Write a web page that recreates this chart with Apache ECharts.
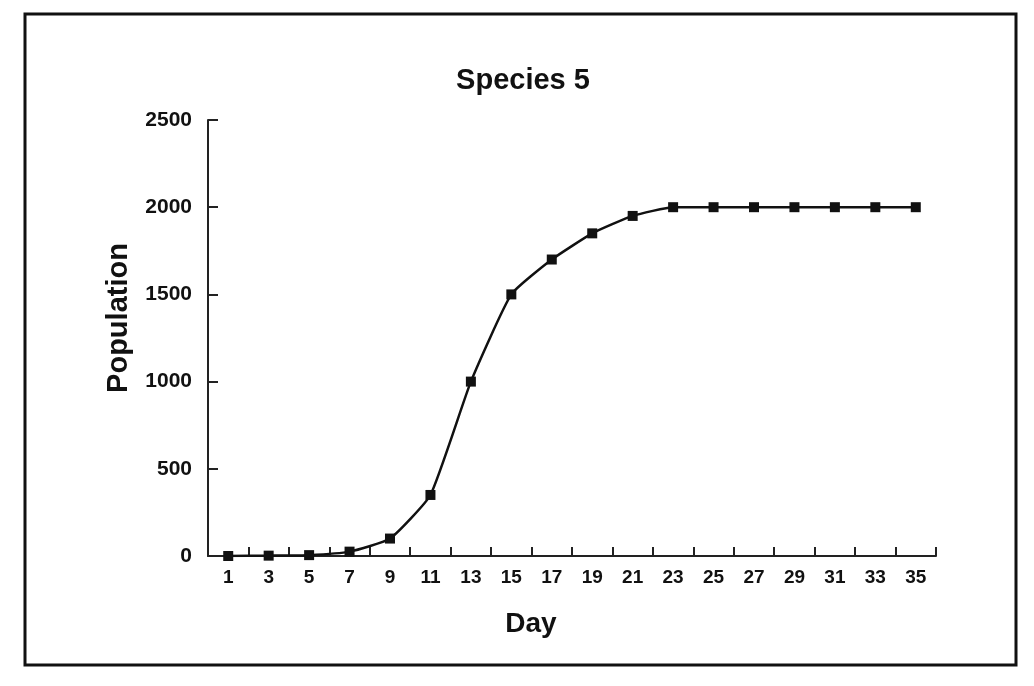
<!DOCTYPE html>
<html>
<head>
<meta charset="utf-8">
<script src="https://cdn.jsdelivr.net/npm/echarts@6/dist/echarts.min.js"></script>
<style>
  html, body { margin: 0; padding: 0; background: #fff; }
  #chart { width: 1034px; height: 686px; }
</style>
</head>
<body>
<div id="chart"></div>
<script>
// days sampled every other day
var days = ['1', '3', '5', '7', '9', '11', '13', '15', '17', '19', '21', '23', '25', '27', '29', '31', '33', '35'];
var population = [0, 2, 5, 25, 100, 350, 1000, 1500, 1700, 1850, 1950, 2000, 2000, 2000, 2000, 2000, 2000, 2000];
var yTicks = [0, 500, 1000, 1500, 2000, 2500];

var font = "'Liberation Sans Narrow', 'Liberation Sans', Arial, sans-serif";

var chart = echarts.init(document.getElementById('chart'));
var option = {
    animation: false,
    backgroundColor: '#fff',
    title: {
        text: 'Species 5',
        left: 518,
        textAlign: 'center',
        top: 61,
        textStyle: { fontFamily: font, fontSize: 29, fontWeight: 'bold', color: '#111' }
    },
    graphic: [{
        type: 'rect',
        shape: { x: 25, y: 14, width: 991, height: 651 },
        style: { fill: 'none', stroke: '#111', lineWidth: 3 },
        silent: true
    }],
    grid: { left: 208, right: 98, top: 120, bottom: 130 },
    xAxis: {
        type: 'category',
        data: days,
        boundaryGap: true,
        name: 'Day',
        nameLocation: 'middle',
        nameGap: 54,
        nameTextStyle: { fontFamily: font, fontSize: 28, fontWeight: 'bold', color: '#111', padding: [0, 82, 0, 0] },
        axisLine: { show: true, lineStyle: { color: '#222', width: 2 } },
        axisTick: { show: true, interval: 0, inside: true, length: 9, lineStyle: { color: '#222', width: 2 } },
        axisLabel: { interval: 0, margin: 12, fontFamily: font, fontSize: 19, fontWeight: 'bold', color: '#111' },
        splitLine: { show: false }
    },
    yAxis: {
        type: 'value',
        min: yTicks[0],
        max: yTicks[yTicks.length - 1],
        interval: 500,
        name: 'Population',
        nameLocation: 'middle',
        nameGap: 75,
        nameTextStyle: { fontFamily: font, fontSize: 29, fontWeight: 'bold', color: '#111', padding: [0, 0, 0, 40] },
        axisLine: { show: true, lineStyle: { color: '#222', width: 2 } },
        axisTick: { show: true, inside: true, length: 10, lineStyle: { color: '#222', width: 2 } },
        axisLabel: {
            margin: 16, fontFamily: font, fontSize: 21, fontWeight: 'bold', color: '#111',
            formatter: function (v) { return String(v); }
        },
        splitLine: { show: false }
    },
    series: [{
        type: 'line',
        data: population,
        smooth: 0.15,
        symbol: 'rect',
        symbolSize: 10,
        lineStyle: { color: '#111', width: 2.5 },
        itemStyle: { color: '#111' }
    }]
};
chart.setOption(option);
</script>
</body>
</html>
